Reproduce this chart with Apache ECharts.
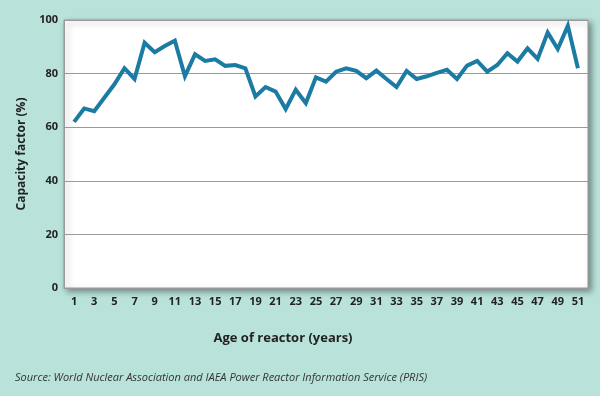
<!DOCTYPE html>
<html>
<head>
<meta charset="utf-8">
<script src="https://cdn.jsdelivr.net/npm/echarts@6/dist/echarts.min.js"></script>
<style>
  html, body { margin: 0; padding: 0; background: #b9e2da; }
  #chart { width: 600px; height: 396px; }
</style>
</head>
<body>
<div id="chart"></div>
<script>
  // age of reactor (years)
  var ages = [];
  for (var a = 1; a <= 51; a++) ages.push(a);

  // capacity factor (%)
  var capacity = [
    62, 67, 66, 71, 76, 82, 78, 91.5, 88, 90.3,
    92.3, 79, 87.2, 84.7, 85.3, 82.9, 83.2, 82, 71.5, 75,
    73.3, 66.8, 74, 69, 78.6, 77, 80.7, 82, 81, 78.3,
    81.1, 78, 75, 81, 78, 79, 80.3, 81.4, 78, 83,
    84.7, 80.7, 83.2, 87.6, 84.5, 89.4, 85.5, 95.3, 89.2, 97.8,
    82
  ];

  var yTicks = [0, 20, 40, 60, 80, 100];

  var data = [];
  for (var i = 0; i < ages.length; i++) {
    data.push([ages[i], capacity[i]]);
  }

  var myChart = echarts.init(document.getElementById('chart'));

  var option = {
    backgroundColor: '#b9e2da',
    title: {
      text: 'Source: World Nuclear Association and IAEA Power Reactor Information Service (PRIS)',
      left: 10,
      top: 367,
      textStyle: {
        color: '#333',
        fontFamily: 'Open Sans',
        fontStyle: 'italic',
        fontWeight: 'normal',
        fontSize: 11
      }
    },
    grid: {
      show: true,
      left: 64,
      right: 12,
      top: 20,
      bottom: 108,
      backgroundColor: '#ffffff',
      borderColor: '#9a9a9a',
      borderWidth: 1,
      shadowColor: 'rgba(0,0,0,0.4)',
      shadowBlur: 6,
      shadowOffsetX: 3,
      shadowOffsetY: 3
    },
    xAxis: {
      type: 'value',
      min: 0,
      max: 52,
      interval: 1,
      name: 'Age of reactor (years)',
      nameLocation: 'middle',
      nameGap: 44,
      nameTextStyle: {
        color: '#222',
        fontFamily: 'Open Sans',
        fontWeight: 'bold',
        fontSize: 13,
        padding: [0, 86, 0, 0]
      },
      axisLine: { show: true, lineStyle: { color: '#9a9a9a' } },
      axisTick: { show: false },
      splitLine: { show: false },
      axisLabel: {
        color: '#222',
        fontFamily: 'Open Sans',
        fontWeight: 'bold',
        fontSize: 11,
        margin: 8,
        formatter: function (v) {
          return ages.indexOf(v) >= 0 && v % 2 === 1 ? String(v) : '';
        }
      }
    },
    yAxis: {
      type: 'value',
      min: 0,
      max: 100,
      interval: 20,
      name: 'Capacity factor (%)',
      nameLocation: 'middle',
      nameGap: 36,
      nameRotate: 90,
      nameTextStyle: {
        color: '#222',
        fontFamily: 'Open Sans',
        fontWeight: 'bold',
        fontSize: 12
      },
      axisLine: { show: true, lineStyle: { color: '#9a9a9a' } },
      axisTick: { show: false },
      splitLine: { show: true, lineStyle: { color: '#9a9a9a', width: 1 } },
      axisLabel: {
        color: '#222',
        fontFamily: 'Open Sans',
        fontWeight: 'bold',
        fontSize: 11,
        margin: 6,
        formatter: function (v) {
          return yTicks.indexOf(v) >= 0 ? String(v) : '';
        }
      }
    },
    series: [
      {
        name: 'Capacity factor',
        type: 'line',
        data: data,
        symbol: 'none',
        lineStyle: { color: '#1b7ba3', width: 4, join: 'miter' },
        itemStyle: { color: '#1b7ba3' },
        animation: false
      }
    ]
  };

  myChart.setOption(option, true);
</script>
</body>
</html>
